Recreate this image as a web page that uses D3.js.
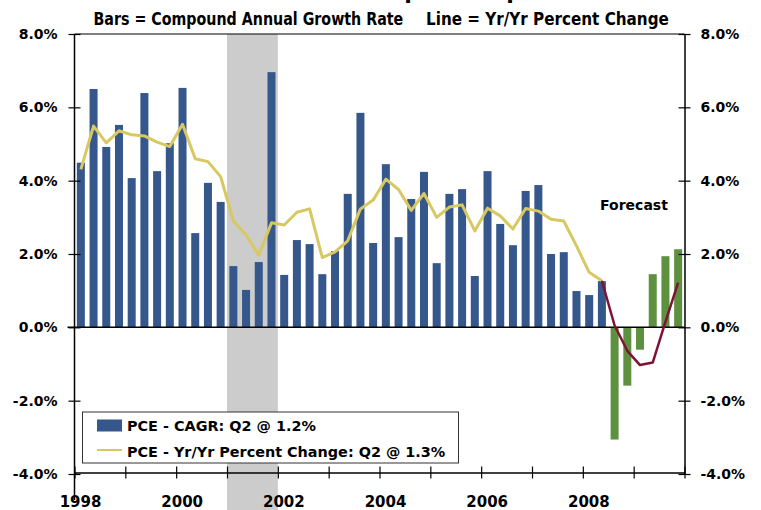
<!DOCTYPE html>
<html><head><meta charset="utf-8">
<script src="https://cdn.jsdelivr.net/npm/d3@7"></script>
<style>
html,body{margin:0;padding:0;background:#fff;}
svg{display:block;}
text{font-family:"DejaVu Sans",Verdana,sans-serif;font-weight:bold;fill:#000;}
</style></head>
<body><svg id="c" width="761" height="510"></svg>
<script>
const years = [1998,1999,2000,2001,2002,2003,2004,2005,2006,2007,2008,2009];
const quarterNames = ["Q1","Q2","Q3","Q4"];
const quarters = years.flatMap(y => quarterNames.map(q => y + q));
const cagrActual = [4.49,6.50,4.92,5.52, 4.07,6.39,4.26,5.02, 6.53,2.57,3.94,3.42,
  1.67,1.02,1.78,6.96, 1.43,2.38,2.27,1.45, 2.08,3.64,5.85,2.30, 4.45,2.46,3.50,4.24,
  1.75,3.64,3.77,1.40, 4.26,2.82,2.24,3.72, 3.88,2.00,2.05,0.99, 0.88,1.26];
const cagrForecast = [-3.06,-1.59,-0.61,1.45,1.94,2.13];
const yoyActual = [4.31,5.49,5.03,5.36, 5.25,5.22,5.05,4.93, 5.54,4.60,4.52,4.11,
  2.90,2.52,1.97,2.85, 2.79,3.14,3.23,1.90, 2.06,2.36,3.23,3.47, 4.04,3.76,3.19,3.65,
  3.00,3.28,3.34,2.63, 3.25,3.04,2.68,3.24, 3.17,2.95,2.90,2.22, 1.50,1.27];
const yoyForecast = [1.27,0.05,-0.64,-1.03,-0.96,0.15,1.22];
const yTicks = [-4,-2,0,2,4,6,8];
const yearLabels = [1998,2000,2002,2004,2006,2008];
const recession = ["2001Q1","2001Q4"];
const legendLabels = ["PCE - CAGR: Q2 @ 1.2%","PCE - Yr/Yr Percent Change: Q2 @ 1.3%"];
const mainTitle = "Real Personal Consumption Expenditures";
const subTitles = ["Bars = Compound Annual Growth Rate","Line = Yr/Yr Percent Change"];

const C = {blue:"#36578c", green:"#5e913f", yellow:"#d8c862", red:"#7f1333", gray:"#cccccc"};
const L = 74.5, R = 684.5, T = 34, B = 474;
const svg = d3.select("#c");

const x = d3.scaleBand().domain(quarters).range([L,R]).paddingInner(0.37).paddingOuter(0.185);
const xc = q => x(q) + x.bandwidth()/2;
const xYear = d3.scaleLinear().domain([1998,2010]).range([L,R]);
const y = d3.scaleLinear().domain([-4,8]).range([B,T]);

// recession band
svg.append("rect").attr("x", x(recession[0]) - x.step()*x.paddingInner()/2)
  .attr("y", T).attr("width", x.step()*4).attr("height", 510 - T).attr("fill", C.gray);

// bars
const actQ = quarters.slice(0, cagrActual.length);
const fcQ = quarters.slice(cagrActual.length);
svg.append("g").selectAll("rect").data(cagrActual).join("rect")
  .attr("x",(d,i)=>x(actQ[i])).attr("width",x.bandwidth())
  .attr("y",d=>y(Math.max(0,d))).attr("height",d=>Math.abs(y(d)-y(0))).attr("fill",C.blue);
svg.append("g").selectAll("rect").data(cagrForecast).join("rect")
  .attr("x",(d,i)=>x(fcQ[i])).attr("width",x.bandwidth())
  .attr("y",d=>y(Math.max(0,d))).attr("height",d=>Math.abs(y(d)-y(0))).attr("fill",C.green);

// frame & zero line
svg.append("line").attr("x1",L).attr("x2",R).attr("y1",T).attr("y2",T).attr("stroke","#000").attr("stroke-width",1.2);
svg.append("line").attr("x1",L-7).attr("x2",R).attr("y1",y(0)).attr("y2",y(0)).attr("stroke","#000").attr("stroke-width",1.5);

// lines
const line = d3.line().x(d=>xc(d.q)).y(d=>y(d.v));
svg.append("path").datum(yoyActual.map((v,i)=>({q:actQ[i],v})))
  .attr("d",line).attr("fill","none").attr("stroke",C.yellow).attr("stroke-width",3).attr("stroke-linejoin","round");
const fcLineQ = quarters.slice(cagrActual.length-1);
svg.append("path").datum(yoyForecast.map((v,i)=>({q:fcLineQ[i],v})))
  .attr("d",line).attr("fill","none").attr("stroke",C.red).attr("stroke-width",2.5).attr("stroke-linejoin","round");

// axes
const fmt = d => d.toFixed(1) + "%";
const la = svg.append("g").attr("transform",`translate(${L},0)`)
  .call(d3.axisLeft(y).tickValues(yTicks).tickFormat(fmt).tickSizeInner(6).tickSizeOuter(0).tickPadding(11));
la.selectAll(".tick line").attr("x2",6).attr("x1",-6);
const ra = svg.append("g").attr("transform",`translate(${R},0)`)
  .call(d3.axisRight(y).tickValues(yTicks).tickFormat(fmt).tickSizeInner(6).tickSizeOuter(0).tickPadding(10));
ra.selectAll(".tick line").attr("x1",-6).attr("x2",6);
[la,ra].forEach(a=>{
  a.select(".domain").attr("stroke","#000").attr("stroke-width",1.5);
  a.selectAll(".tick line").attr("stroke","#000").attr("stroke-width",1.2);
  a.selectAll("text").attr("font-size",14).attr("font-family","DejaVu Sans").attr("font-weight","bold").attr("fill","#000");
});
la.select(".domain").attr("d",`M0,${T}V500`);

const xa = svg.append("g").attr("transform",`translate(0,${B-1.5})`)
  .call(d3.axisBottom(xYear).tickValues(d3.range(1998,2011)).tickSizeInner(6).tickSizeOuter(0)
    .tickFormat(d => yearLabels.includes(d) ? String(d) : "").tickPadding(18));
xa.select(".domain").attr("stroke","#000").attr("stroke-width",1.5);
xa.selectAll(".tick line").attr("y1",-6).attr("stroke","#000").attr("stroke-width",1.2);
xa.selectAll("text").attr("font-size",15).attr("font-family","DejaVu Sans").attr("font-weight","bold").attr("fill","#000").attr("dx",5.5);

// legend
const lg = svg.append("g");
lg.append("rect").attr("x",82.5).attr("y",412).attr("width",376).attr("height",51).attr("fill","#fff").attr("stroke","#333").attr("stroke-width",1);
lg.append("rect").attr("x",97).attr("y",419.5).attr("width",25).attr("height",12).attr("fill",C.blue);
lg.append("line").attr("x1",97).attr("x2",122).attr("y1",450).attr("y2",450).attr("stroke",C.yellow).attr("stroke-width",2);
lg.append("text").attr("x",127).attr("y",431).attr("font-size",14.4).text(legendLabels[0]);
lg.append("text").attr("x",127).attr("y",457).attr("font-size",14.4).text(legendLabels[1]);

// subtitles: condensed look, horizontally scaled to the reference widths
[[subTitles[0],93.5,310],[subTitles[1],426,243]].forEach(([t,x0,w])=>{
  const g = svg.append("g");
  const el = g.append("text").attr("x",0).attr("y",0)
    .attr("font-family","DejaVu Sans Condensed, DejaVu Sans, sans-serif").attr("font-size",17).text(t);
  const nat = el.node().getComputedTextLength();
  g.attr("transform",`translate(${x0},25) scale(${w/nat},1)`);
});

// main title, mostly above the visible area (only descenders show)
let fs = 22;
const mt = svg.append("text").attr("x",0).attr("y",-2).attr("font-size",fs).text(mainTitle);
const n = mt.node();
const i1 = mainTitle.indexOf("ption"), i2 = mainTitle.indexOf("pend");
let s1 = n.getExtentOfChar(i1).x, s2 = n.getExtentOfChar(i2).x;
fs = fs * 102 / (s2 - s1);
mt.attr("font-size", fs);
s1 = n.getExtentOfChar(i1).x;
mt.attr("x", 406 - s1 - 0.08*fs);

svg.append("text").attr("x",634).attr("y",210).attr("text-anchor","middle").attr("font-size",14).text("Forecast");
</script></body></html>
